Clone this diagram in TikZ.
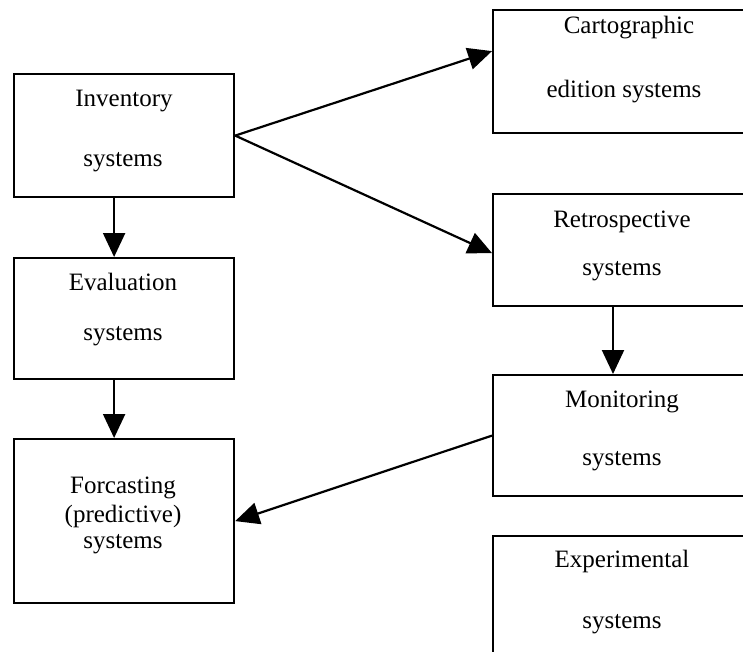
\documentclass[tikz,border=0pt]{standalone}
\usepackage{fontspec}
\setmainfont{Liberation Serif}
\usetikzlibrary{arrows.meta,calc}
\begin{document}
\begin{tikzpicture}[x=1pt,y=-1pt,
  box/.style={draw,line width=2.2pt,rectangle,inner sep=0pt,anchor=north west},
  lbl/.style={anchor=base,inner sep=0pt,font=\fontsize{25}{28}\selectfont},
  conn/.style={line width=2.2pt,-{Triangle[length=24pt,width=22pt]}}]
\useasboundingbox (0,0) rectangle (743,652);
\clip (0,0) rectangle (743,652);
% boxes
\node[box,minimum width=220pt,minimum height=123pt] (inv) at (13,73) {};
\node[box,minimum width=220pt,minimum height=121pt] (eval) at (13,257) {};
\node[box,minimum width=220pt,minimum height=164pt] (fore) at (13,438) {};
\node[box,minimum width=290pt,minimum height=123pt] (cart) at (492,9) {};
\node[box,minimum width=290pt,minimum height=112pt] (retro) at (492,193) {};
\node[box,minimum width=290pt,minimum height=121pt] (mon) at (492,374) {};
\node[box,minimum width=290pt,minimum height=150pt] (exp) at (492,535) {};
% labels
\node[lbl] (inv1) at (124,107) {Inventory};
\node[lbl] (inv2) at (123,167) {systems};
\node[lbl] (eval1) at (123,290) {Evaluation};
\node[lbl] (eval2) at (123,340) {systems};
\node[lbl] (fore1) at (123,493) {Forcasting};
\node[lbl] (fore2) at (123,522) {(predictive)};
\node[lbl] (fore3) at (123,548) {systems};
\node[lbl] (cart1) at (629,34) {Cartographic};
\node[lbl] (cart2) at (624,98) {edition systems};
\node[lbl] (retro1) at (622,227) {Retrospective};
\node[lbl] (retro2) at (622,275) {systems};
\node[lbl] (mon1) at (622,407) {Monitoring};
\node[lbl] (mon2) at (622,465) {systems};
\node[lbl] (exp1) at (622,567) {Experimental};
\node[lbl] (exp2) at (622,628) {systems};
% connectors
\draw[conn] (inv.east) -- ([yshift=20.5pt]cart.west);
\draw[conn] (inv.east) -- ([yshift=-3pt]retro.west);
\draw[conn] ([xshift=-10pt]inv.south) -- ([xshift=-10pt]eval.north);
\draw[conn] ([xshift=-10pt]eval.south) -- ([xshift=-10pt]fore.north);
\draw[conn] ([xshift=121pt]retro.south west) -- ([xshift=121pt]mon.north west);
\draw[conn] (mon.west) -- (fore.east);
\end{tikzpicture}
\end{document}
